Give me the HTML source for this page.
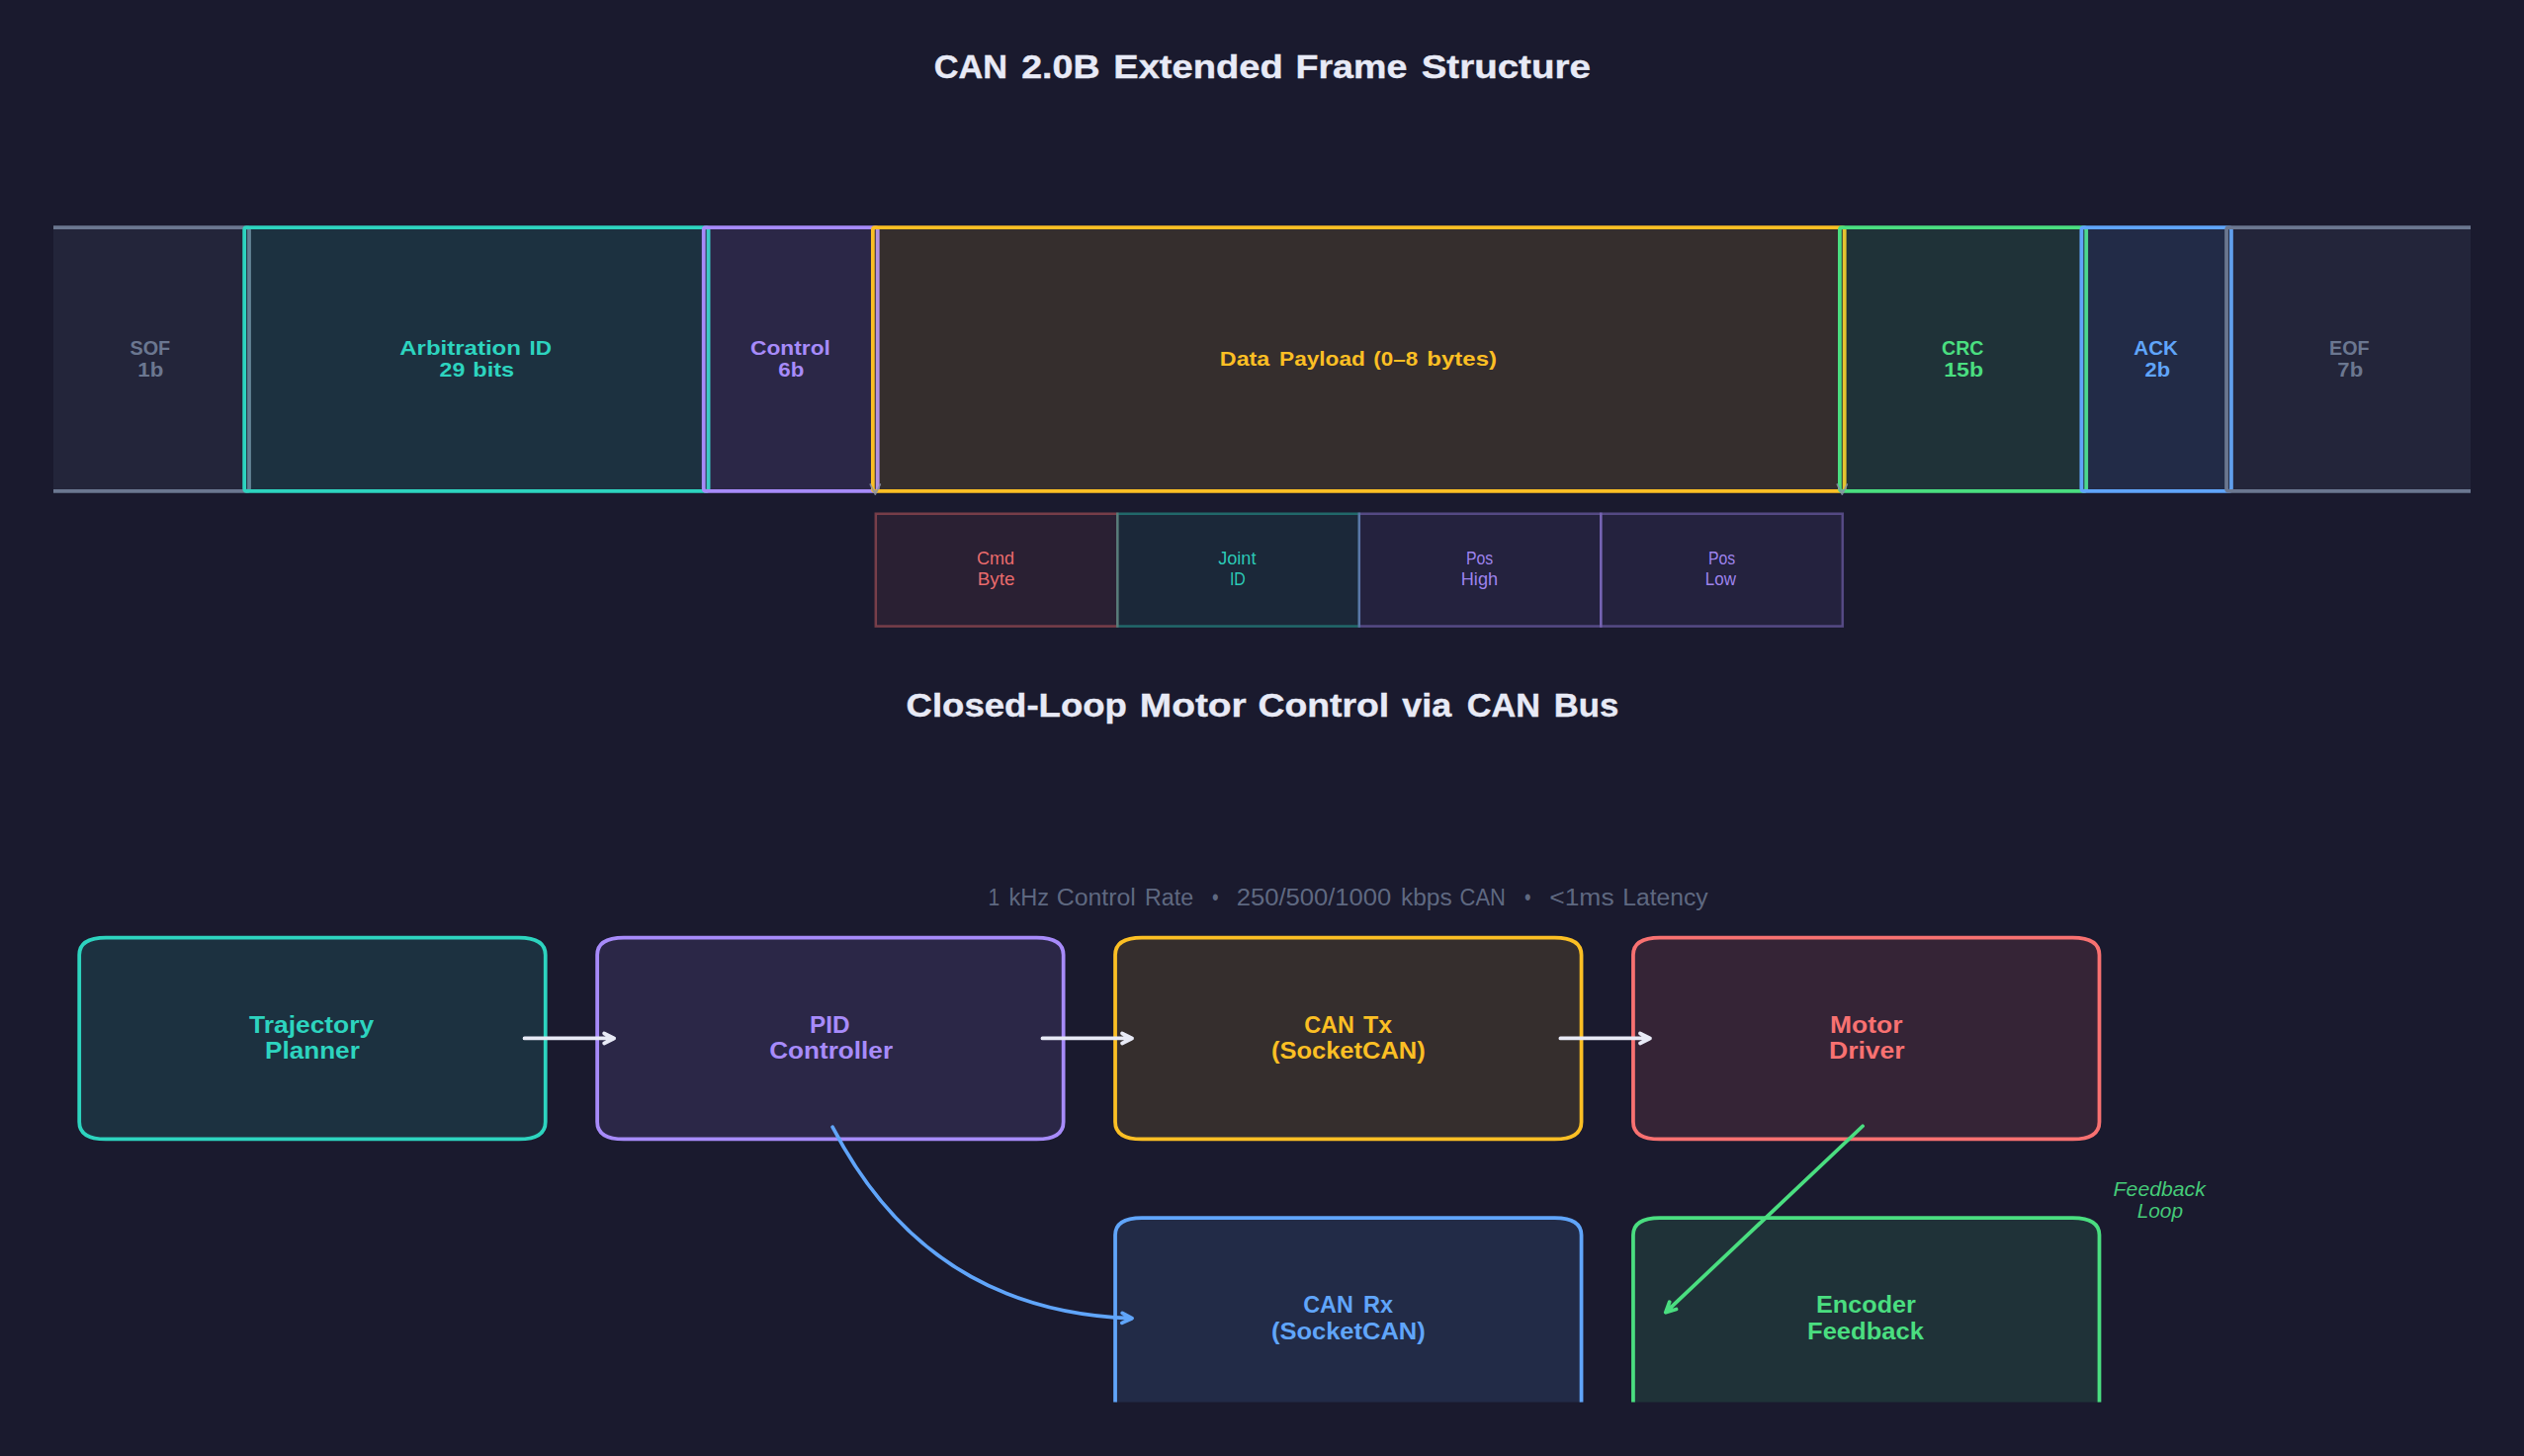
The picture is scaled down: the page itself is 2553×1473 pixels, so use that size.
<!DOCTYPE html>
<html lang="en"><head><meta charset="utf-8"><title>CAN 2.0B Extended Frame Structure / Closed-Loop Motor Control via CAN Bus</title>
<style>
html,body{margin:0;padding:0;background:#1a1a2e;}
body{width:2553px;height:1473px;overflow:hidden;position:relative;font-family:"Liberation Sans",sans-serif;}
svg{position:absolute;left:0;top:0;display:block;}
text{font-family:"Liberation Sans",sans-serif;white-space:pre;}
.b{font-weight:bold;}.i{font-style:italic;}
.box{stroke-width:3.75;stroke-linejoin:miter;}
.arr{fill:none;stroke-linecap:round;stroke-linejoin:round;}
</style></head><body>
<svg width="2553" height="1473" viewBox="0 0 2553 1473">
<defs>
<clipPath id="c1"><rect x="54.0" y="0" width="2445.0" height="700"/></clipPath>
<clipPath id="c2"><rect x="54.0" y="700" width="2445.0" height="718.60"/></clipPath>
</defs>
<rect x="0" y="0" width="2553" height="1473" fill="#1a1a2e"/>
<g clip-path="url(#c1)">
<path class="box" d="M54.00 230.10 L249.60 230.10 Q252.04 230.10 252.04 232.70 L252.04 494.20 Q252.04 496.80 249.60 496.80 L54.00 496.80 Q51.55 496.80 51.55 494.20 L51.55 232.70 Q51.55 230.10 54.00 230.10 Z" fill="#6b7790" fill-opacity="0.125" stroke="#6b7790"/>
<path class="box" d="M249.60 230.10 L714.15 230.10 Q716.60 230.10 716.60 232.70 L716.60 494.20 Q716.60 496.80 714.15 496.80 L249.60 496.80 Q247.16 496.80 247.16 494.20 L247.16 232.70 Q247.16 230.10 249.60 230.10 Z" fill="#2dd4bf" fill-opacity="0.125" stroke="#2dd4bf"/>
<path class="box" d="M714.15 230.10 L885.30 230.10 Q887.75 230.10 887.75 232.70 L887.75 494.20 Q887.75 496.80 885.30 496.80 L714.15 496.80 Q711.70 496.80 711.70 494.20 L711.70 232.70 Q711.70 230.10 714.15 230.10 Z" fill="#a78bfa" fill-opacity="0.125" stroke="#a78bfa"/>
<path class="box" d="M885.30 230.10 L1863.30 230.10 Q1865.74 230.10 1865.74 232.70 L1865.74 494.20 Q1865.74 496.80 1863.30 496.80 L885.30 496.80 Q882.85 496.80 882.85 494.20 L882.85 232.70 Q882.85 230.10 885.30 230.10 Z" fill="#fbbf24" fill-opacity="0.125" stroke="#fbbf24"/>
<path class="box" d="M1863.30 230.10 L2107.80 230.10 Q2110.24 230.10 2110.24 232.70 L2110.24 494.20 Q2110.24 496.80 2107.80 496.80 L1863.30 496.80 Q1860.86 496.80 1860.86 494.20 L1860.86 232.70 Q1860.86 230.10 1863.30 230.10 Z" fill="#4ade80" fill-opacity="0.125" stroke="#4ade80"/>
<path class="box" d="M2107.80 230.10 L2254.50 230.10 Q2256.95 230.10 2256.95 232.70 L2256.95 494.20 Q2256.95 496.80 2254.50 496.80 L2107.80 496.80 Q2105.35 496.80 2105.35 494.20 L2105.35 232.70 Q2105.35 230.10 2107.80 230.10 Z" fill="#60a5fa" fill-opacity="0.125" stroke="#60a5fa"/>
<path class="box" d="M2254.50 230.10 L2499.00 230.10 Q2501.45 230.10 2501.45 232.70 L2501.45 494.20 Q2501.45 496.80 2499.00 496.80 L2254.50 496.80 Q2252.05 496.80 2252.05 494.20 L2252.05 232.70 Q2252.05 230.10 2254.50 230.10 Z" fill="#6b7790" fill-opacity="0.125" stroke="#6b7790"/>
</g>
<rect x="885.80" y="519.70" width="244.50" height="113.90" fill="#f87171" fill-opacity="0.08" stroke="#f87171" stroke-opacity="0.4" stroke-width="2.5"/>
<rect x="1130.30" y="519.70" width="244.50" height="113.90" fill="#2dd4bf" fill-opacity="0.08" stroke="#2dd4bf" stroke-opacity="0.4" stroke-width="2.5"/>
<rect x="1374.80" y="519.70" width="244.50" height="113.90" fill="#a78bfa" fill-opacity="0.08" stroke="#a78bfa" stroke-opacity="0.4" stroke-width="2.5"/>
<rect x="1619.30" y="519.70" width="244.50" height="113.90" fill="#a78bfa" fill-opacity="0.08" stroke="#a78bfa" stroke-opacity="0.4" stroke-width="2.5"/>
<path class="arr" d="M885.30 496.00 Q885.30 499.40 885.30 500.01 M890.30 490.01 L885.30 500.01 L880.30 490.01" stroke="#8790a6" stroke-opacity="0.85" stroke-width="1.7"/>
<path class="arr" d="M1863.30 496.00 Q1863.30 499.40 1863.30 500.01 M1868.30 490.01 L1863.30 500.01 L1858.30 490.01" stroke="#8790a6" stroke-opacity="0.85" stroke-width="1.7"/>
<g clip-path="url(#c2)">
<path class="box" d="M107.20 948.50 L524.72 948.50 Q551.72 948.50 551.72 966.00 L551.72 1134.90 Q551.72 1152.40 524.72 1152.40 L107.20 1152.40 Q80.20 1152.40 80.20 1134.90 L80.20 966.00 Q80.20 948.50 107.20 948.50 Z" fill="#2dd4bf" fill-opacity="0.125" stroke="#2dd4bf"/>
<path class="box" d="M631.12 948.50 L1048.64 948.50 Q1075.64 948.50 1075.64 966.00 L1075.64 1134.90 Q1075.64 1152.40 1048.64 1152.40 L631.12 1152.40 Q604.12 1152.40 604.12 1134.90 L604.12 966.00 Q604.12 948.50 631.12 948.50 Z" fill="#a78bfa" fill-opacity="0.125" stroke="#a78bfa"/>
<path class="box" d="M1155.04 948.50 L1572.56 948.50 Q1599.56 948.50 1599.56 966.00 L1599.56 1134.90 Q1599.56 1152.40 1572.56 1152.40 L1155.04 1152.40 Q1128.04 1152.40 1128.04 1134.90 L1128.04 966.00 Q1128.04 948.50 1155.04 948.50 Z" fill="#fbbf24" fill-opacity="0.125" stroke="#fbbf24"/>
<path class="box" d="M1678.96 948.50 L2096.48 948.50 Q2123.48 948.50 2123.48 966.00 L2123.48 1134.90 Q2123.48 1152.40 2096.48 1152.40 L1678.96 1152.40 Q1651.96 1152.40 1651.96 1134.90 L1651.96 966.00 Q1651.96 948.50 1678.96 948.50 Z" fill="#f87171" fill-opacity="0.125" stroke="#f87171"/>
<path class="box" d="M1155.04 1232.10 L1572.56 1232.10 Q1599.56 1232.10 1599.56 1249.60 L1599.56 1418.50 Q1599.56 1436.00 1572.56 1436.00 L1155.04 1436.00 Q1128.04 1436.00 1128.04 1418.50 L1128.04 1249.60 Q1128.04 1232.10 1155.04 1232.10 Z" fill="#60a5fa" fill-opacity="0.125" stroke="#60a5fa"/>
<path class="box" d="M1678.96 1232.10 L2096.48 1232.10 Q2123.48 1232.10 2123.48 1249.60 L2123.48 1418.50 Q2123.48 1436.00 2096.48 1436.00 L1678.96 1436.00 Q1651.96 1436.00 1651.96 1418.50 L1651.96 1249.60 Q1651.96 1232.10 1678.96 1232.10 Z" fill="#4ade80" fill-opacity="0.125" stroke="#4ade80"/>
</g>
<path class="arr" d="M530.53 1050.45 Q577.92 1050.45 621.12 1050.45 M611.12 1045.45 L621.12 1050.45 L611.12 1055.45" stroke="#e8eaf6" stroke-width="3.75"/>
<path class="arr" d="M1054.45 1050.45 Q1101.84 1050.45 1145.04 1050.45 M1135.04 1045.45 L1145.04 1050.45 L1135.04 1055.45" stroke="#e8eaf6" stroke-width="3.75"/>
<path class="arr" d="M1578.37 1050.45 Q1625.76 1050.45 1668.96 1050.45 M1658.96 1045.45 L1668.96 1050.45 L1658.96 1055.45" stroke="#e8eaf6" stroke-width="3.75"/>
<path class="arr" d="M842.16 1140.25 Q938.96 1327.05 1145.04 1333.73 M1135.21 1328.41 L1145.04 1333.73 L1134.89 1338.40" stroke="#60a5fa" stroke-width="3.75"/>
<path class="arr" d="M1884.08 1139.24 Q1782.94 1234.90 1684.83 1327.68 M1695.53 1324.44 L1684.83 1327.68 L1688.66 1317.18" stroke="#4ade80" stroke-width="3.75"/>
<text class="b" font-size="21.0" fill="#6b7790" y="358.80"><tspan x="131.44" textLength="40.77" lengthAdjust="spacingAndGlyphs">SOF</tspan></text>
<text class="b" font-size="21.0" fill="#6b7790" y="380.80"><tspan x="139.25" textLength="25.98" lengthAdjust="spacingAndGlyphs">1b</tspan></text>
<text class="b" font-size="21.0" fill="#2dd4bf" y="358.80"><tspan x="404.29" textLength="122.66" lengthAdjust="spacingAndGlyphs">Arbitration</tspan> <tspan x="535.56" textLength="22.45" lengthAdjust="spacingAndGlyphs">ID</tspan></text>
<text class="b" font-size="21.0" fill="#2dd4bf" y="380.80"><tspan x="444.63" textLength="25.72" lengthAdjust="spacingAndGlyphs">29</tspan> <tspan x="478.38" textLength="41.83" lengthAdjust="spacingAndGlyphs">bits</tspan></text>
<text class="b" font-size="21.0" fill="#a78bfa" y="358.80"><tspan x="759.04" textLength="80.86" lengthAdjust="spacingAndGlyphs">Control</tspan></text>
<text class="b" font-size="21.0" fill="#a78bfa" y="380.80"><tspan x="787.27" textLength="25.96" lengthAdjust="spacingAndGlyphs">6b</tspan></text>
<text class="b" font-size="21.0" fill="#fbbf24" y="369.80"><tspan x="1233.89" textLength="50.37" lengthAdjust="spacingAndGlyphs">Data</tspan> <tspan x="1294.05" textLength="86.84" lengthAdjust="spacingAndGlyphs">Payload</tspan> <tspan x="1389.35" textLength="44.89" lengthAdjust="spacingAndGlyphs">(0–8</tspan> <tspan x="1443.36" textLength="70.61" lengthAdjust="spacingAndGlyphs">bytes)</tspan></text>
<text class="b" font-size="21.0" fill="#4ade80" y="358.80"><tspan x="1964.04" textLength="42.48" lengthAdjust="spacingAndGlyphs">CRC</tspan></text>
<text class="b" font-size="21.0" fill="#4ade80" y="380.80"><tspan x="1966.21" textLength="39.94" lengthAdjust="spacingAndGlyphs">15b</tspan></text>
<text class="b" font-size="21.0" fill="#60a5fa" y="358.80"><tspan x="2158.29" textLength="44.57" lengthAdjust="spacingAndGlyphs">ACK</tspan></text>
<text class="b" font-size="21.0" fill="#60a5fa" y="380.80"><tspan x="2169.63" textLength="25.58" lengthAdjust="spacingAndGlyphs">2b</tspan></text>
<text class="b" font-size="21.0" fill="#6b7790" y="358.80"><tspan x="2356.06" textLength="40.53" lengthAdjust="spacingAndGlyphs">EOF</tspan></text>
<text class="b" font-size="21.0" fill="#6b7790" y="380.80"><tspan x="2364.38" textLength="25.84" lengthAdjust="spacingAndGlyphs">7b</tspan></text>
<text font-size="18.375" fill="#f87171" fill-opacity="0.94" y="571.25"><tspan x="988.02" textLength="38.06" lengthAdjust="spacingAndGlyphs">Cmd</tspan></text>
<text font-size="18.375" fill="#f87171" fill-opacity="0.94" y="592.05"><tspan x="988.72" textLength="37.76" lengthAdjust="spacingAndGlyphs">Byte</tspan></text>
<text font-size="18.375" fill="#2dd4bf" fill-opacity="0.94" y="571.25"><tspan x="1232.13" textLength="38.34" lengthAdjust="spacingAndGlyphs">Joint</tspan></text>
<text font-size="18.375" fill="#2dd4bf" fill-opacity="0.94" y="592.05"><tspan x="1243.88" textLength="15.94" lengthAdjust="spacingAndGlyphs">ID</tspan></text>
<text font-size="18.375" fill="#a78bfa" fill-opacity="0.94" y="571.25"><tspan x="1482.89" textLength="27.25" lengthAdjust="spacingAndGlyphs">Pos</tspan></text>
<text font-size="18.375" fill="#a78bfa" fill-opacity="0.94" y="592.05"><tspan x="1477.76" textLength="37.32" lengthAdjust="spacingAndGlyphs">High</tspan></text>
<text font-size="18.375" fill="#a78bfa" fill-opacity="0.94" y="571.25"><tspan x="1727.89" textLength="27.25" lengthAdjust="spacingAndGlyphs">Pos</tspan></text>
<text font-size="18.375" fill="#a78bfa" fill-opacity="0.94" y="592.05"><tspan x="1724.82" textLength="31.19" lengthAdjust="spacingAndGlyphs">Low</tspan></text>
<text class="b" font-size="34.125" fill="#e8eaf6" stroke="#e8eaf6" stroke-width="0.4" y="79.10"><tspan x="944.65" textLength="74.25" lengthAdjust="spacingAndGlyphs">CAN</tspan> <tspan x="1033.15" textLength="79.40" lengthAdjust="spacingAndGlyphs">2.0B</tspan> <tspan x="1126.27" textLength="171.40" lengthAdjust="spacingAndGlyphs">Extended</tspan> <tspan x="1310.55" textLength="112.77" lengthAdjust="spacingAndGlyphs">Frame</tspan> <tspan x="1437.65" textLength="171.20" lengthAdjust="spacingAndGlyphs">Structure</tspan></text>
<text class="b" font-size="34.125" fill="#e8eaf6" stroke="#e8eaf6" stroke-width="0.4" y="724.60"><tspan x="916.58" textLength="223.30" lengthAdjust="spacingAndGlyphs">Closed-Loop</tspan> <tspan x="1152.72" textLength="108.03" lengthAdjust="spacingAndGlyphs">Motor</tspan> <tspan x="1272.43" textLength="132.69" lengthAdjust="spacingAndGlyphs">Control</tspan> <tspan x="1418.31" textLength="49.86" lengthAdjust="spacingAndGlyphs">via</tspan> <tspan x="1483.77" textLength="74.25" lengthAdjust="spacingAndGlyphs">CAN</tspan> <tspan x="1571.71" textLength="65.62" lengthAdjust="spacingAndGlyphs">Bus</tspan></text>
<text font-size="23.625" fill="#6b7790" fill-opacity="0.87" y="916.20"><tspan x="999.55" textLength="11.71" lengthAdjust="spacingAndGlyphs">1</tspan> <tspan x="1020.50" textLength="40.68" lengthAdjust="spacingAndGlyphs">kHz</tspan> <tspan x="1068.72" textLength="80.09" lengthAdjust="spacingAndGlyphs">Control</tspan> <tspan x="1158.02" textLength="49.11" lengthAdjust="spacingAndGlyphs">Rate</tspan> <tspan x="1226.04" textLength="6.62" lengthAdjust="spacingAndGlyphs">•</tspan> <tspan x="1250.66" textLength="156.71" lengthAdjust="spacingAndGlyphs">250/500/1000</tspan> <tspan x="1416.96" textLength="51.84" lengthAdjust="spacingAndGlyphs">kbps</tspan> <tspan x="1476.59" textLength="46.39" lengthAdjust="spacingAndGlyphs">CAN</tspan> <tspan x="1542.00" textLength="6.54" lengthAdjust="spacingAndGlyphs">•</tspan> <tspan x="1567.26" textLength="65.35" lengthAdjust="spacingAndGlyphs">&lt;1ms</tspan> <tspan x="1641.21" textLength="86.38" lengthAdjust="spacingAndGlyphs">Latency</tspan></text>
<text class="b" font-size="23.625" fill="#2dd4bf" y="1044.50"><tspan x="252.13" textLength="125.95" lengthAdjust="spacingAndGlyphs">Trajectory</tspan></text>
<text class="b" font-size="23.625" fill="#2dd4bf" y="1071.10"><tspan x="268.02" textLength="95.80" lengthAdjust="spacingAndGlyphs">Planner</tspan></text>
<text class="b" font-size="23.625" fill="#a78bfa" y="1044.50"><tspan x="819.10" textLength="40.55" lengthAdjust="spacingAndGlyphs">PID</tspan></text>
<text class="b" font-size="23.625" fill="#a78bfa" y="1071.10"><tspan x="778.15" textLength="124.93" lengthAdjust="spacingAndGlyphs">Controller</tspan></text>
<text class="b" font-size="23.625" fill="#fbbf24" y="1044.50"><tspan x="1319.15" textLength="50.64" lengthAdjust="spacingAndGlyphs">CAN</tspan> <tspan x="1379.00" textLength="29.02" lengthAdjust="spacingAndGlyphs">Tx</tspan></text>
<text class="b" font-size="23.625" fill="#fbbf24" y="1071.10"><tspan x="1285.92" textLength="155.86" lengthAdjust="spacingAndGlyphs">(SocketCAN)</tspan></text>
<text class="b" font-size="23.625" fill="#f87171" y="1044.50"><tspan x="1851.01" textLength="73.45" lengthAdjust="spacingAndGlyphs">Motor</tspan></text>
<text class="b" font-size="23.625" fill="#f87171" y="1071.10"><tspan x="1850.01" textLength="76.57" lengthAdjust="spacingAndGlyphs">Driver</tspan></text>
<text class="b" font-size="23.625" fill="#60a5fa" y="1328.00"><tspan x="1318.15" textLength="50.64" lengthAdjust="spacingAndGlyphs">CAN</tspan> <tspan x="1379.01" textLength="30.00" lengthAdjust="spacingAndGlyphs">Rx</tspan></text>
<text class="b" font-size="23.625" fill="#60a5fa" y="1354.60"><tspan x="1285.92" textLength="155.86" lengthAdjust="spacingAndGlyphs">(SocketCAN)</tspan></text>
<text class="b" font-size="23.625" fill="#4ade80" y="1328.00"><tspan x="1837.06" textLength="100.89" lengthAdjust="spacingAndGlyphs">Encoder</tspan></text>
<text class="b" font-size="23.625" fill="#4ade80" y="1354.60"><tspan x="1828.05" textLength="117.81" lengthAdjust="spacingAndGlyphs">Feedback</tspan></text>
<text class="i" font-size="21.0" fill="#4ade80" fill-opacity="0.91" y="1209.80"><tspan x="2137.64" textLength="93.20" lengthAdjust="spacingAndGlyphs">Feedback</tspan></text>
<text class="i" font-size="21.0" fill="#4ade80" fill-opacity="0.91" y="1231.80"><tspan x="2161.64" textLength="46.38" lengthAdjust="spacingAndGlyphs">Loop</tspan></text>
</svg>
</body></html>
